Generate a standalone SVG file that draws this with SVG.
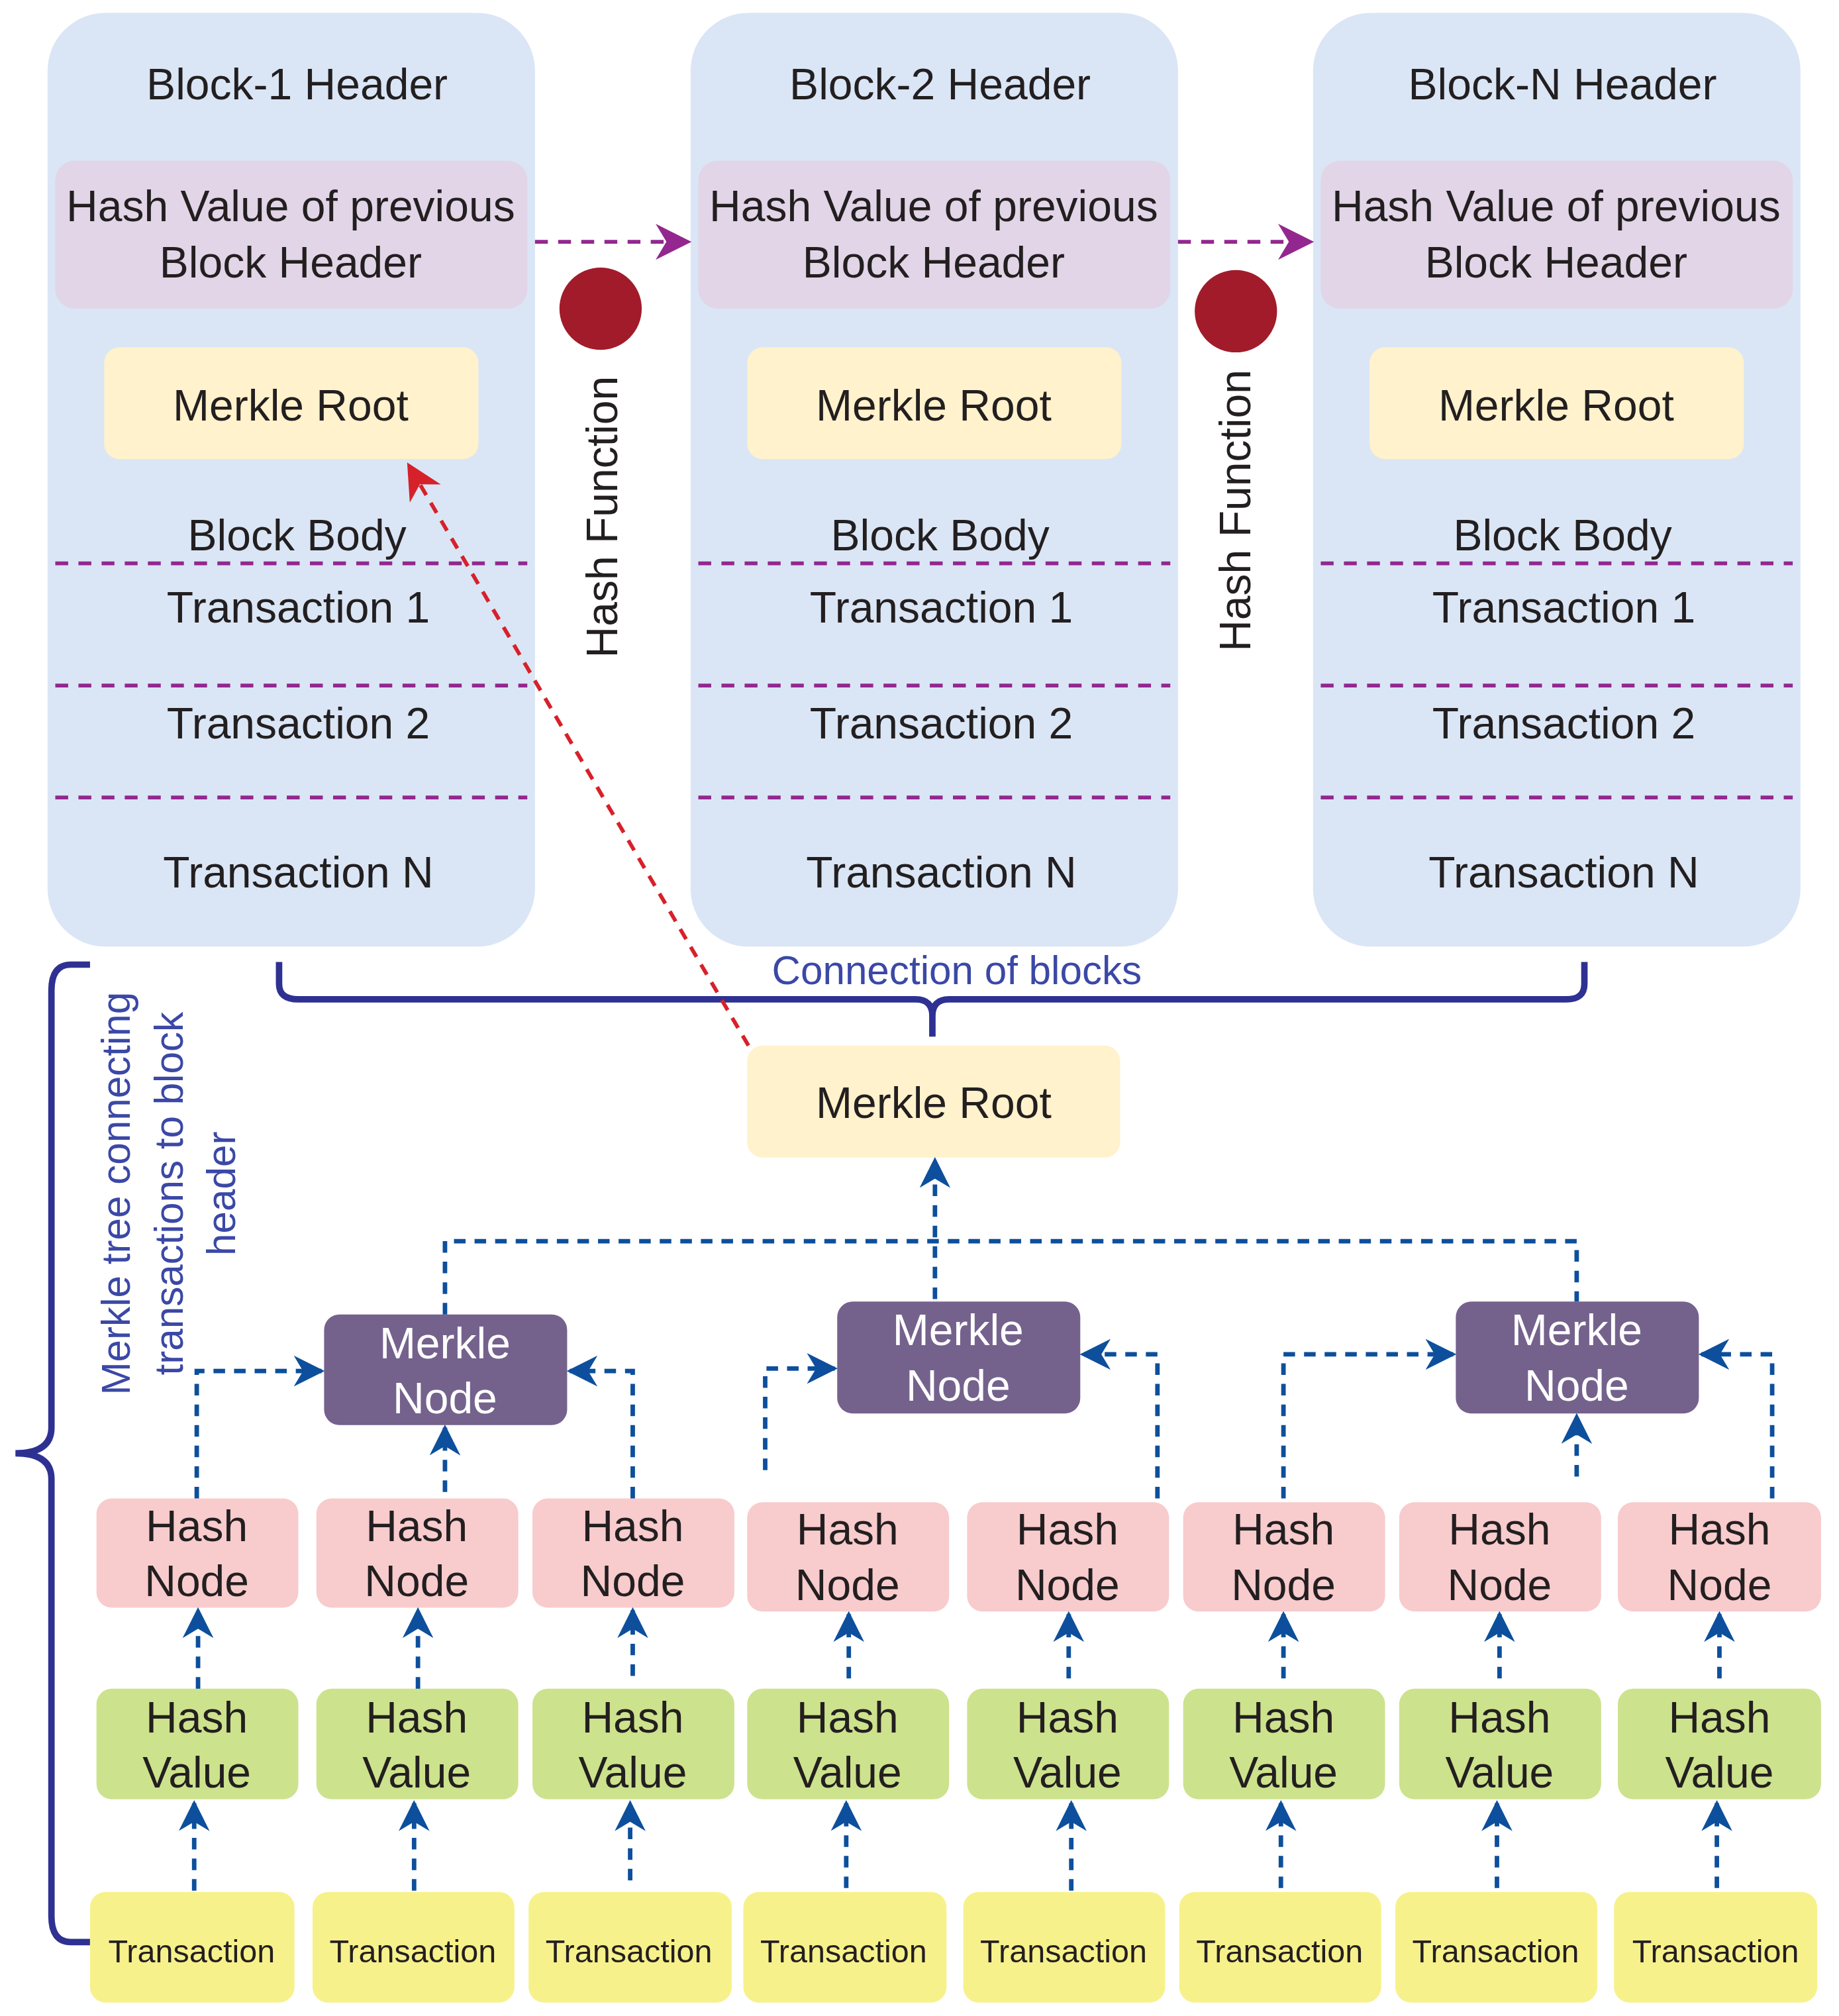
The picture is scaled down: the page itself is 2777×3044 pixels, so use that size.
<svg xmlns="http://www.w3.org/2000/svg" width="2777" height="3044" viewBox="0 0 2777 3044">
<style>
text{font-family:"Liberation Sans",Arial,sans-serif;fill:#231f20;text-anchor:middle}
.blk{fill:#dae6f5}
.hv{fill:#e1d5e7}
.mr{fill:#fff2cc}
.pd{stroke:#93278f;stroke-width:3;stroke-dasharray:10 8;fill:none}
.bd{stroke:#0d4f9c;stroke-width:3.5;stroke-dasharray:9 7;fill:none}
.mn{fill:#74628d}
.hn{fill:#f8cbcd}
.hvl{fill:#cde28c}
.tr{fill:#f7f18b}
.t32{font-size:34px}
.t24{font-size:25px}
text.w{fill:#fff}
text.blue{fill:#3b48a6;font-size:31px}
</style>
<defs>
<marker id="ab" viewBox="0 0 20 20" refX="18" refY="10" markerWidth="24" markerHeight="24" orient="auto" markerUnits="userSpaceOnUse"><path d="M0,0 L20,10 L0,20 L6,10 Z" fill="#0d4f9c"/></marker>
<marker id="ap" viewBox="0 0 20 20" refX="18" refY="10" markerWidth="28" markerHeight="28" orient="auto" markerUnits="userSpaceOnUse"><path d="M0,0 L20,10 L0,20 L6,10 Z" fill="#93278f"/></marker>
<marker id="ar" viewBox="0 0 20 20" refX="18" refY="10" markerWidth="28" markerHeight="28" orient="auto" markerUnits="userSpaceOnUse"><path d="M0,0 L20,10 L0,20 L6,10 Z" fill="#d7212a"/></marker>
</defs>
<g transform="scale(1.942)">
<g id="block1">
<rect class="blk" x="37" y="10" width="379" height="726" rx="45"/>
<text class="t32" x="231" y="77">Block-1 Header</text>
<rect class="hv" x="43" y="125" width="367" height="115" rx="15"/>
<text class="t32" x="226" y="172">Hash Value of previous</text>
<text class="t32" x="226" y="216">Block Header</text>
<rect class="mr" x="81" y="270" width="291" height="87" rx="12"/>
<text class="t32" x="226" y="327">Merkle Root</text>
<text class="t32" x="231" y="428">Block Body</text>
<path class="pd" d="M43,438H410M43,533H410M43,620H410"/>
<text class="t32" x="232" y="484">Transaction 1</text>
<text class="t32" x="232" y="574">Transaction 2</text>
<text class="t32" x="232" y="690">Transaction N</text>
</g>
<g id="block2" transform="translate(500,0)">
<rect class="blk" x="37" y="10" width="379" height="726" rx="45"/>
<text class="t32" x="231" y="77">Block-2 Header</text>
<rect class="hv" x="43" y="125" width="367" height="115" rx="15"/>
<text class="t32" x="226" y="172">Hash Value of previous</text>
<text class="t32" x="226" y="216">Block Header</text>
<rect class="mr" x="81" y="270" width="291" height="87" rx="12"/>
<text class="t32" x="226" y="327">Merkle Root</text>
<text class="t32" x="231" y="428">Block Body</text>
<path class="pd" d="M43,438H410M43,533H410M43,620H410"/>
<text class="t32" x="232" y="484">Transaction 1</text>
<text class="t32" x="232" y="574">Transaction 2</text>
<text class="t32" x="232" y="690">Transaction N</text>
</g>
<g id="blockN" transform="translate(984,0)">
<rect class="blk" x="37" y="10" width="379" height="726" rx="45"/>
<text class="t32" x="231" y="77">Block-N Header</text>
<rect class="hv" x="43" y="125" width="367" height="115" rx="15"/>
<text class="t32" x="226" y="172">Hash Value of previous</text>
<text class="t32" x="226" y="216">Block Header</text>
<rect class="mr" x="81" y="270" width="291" height="87" rx="12"/>
<text class="t32" x="226" y="327">Merkle Root</text>
<text class="t32" x="231" y="428">Block Body</text>
<path class="pd" d="M43,438H410M43,533H410M43,620H410"/>
<text class="t32" x="232" y="484">Transaction 1</text>
<text class="t32" x="232" y="574">Transaction 2</text>
<text class="t32" x="232" y="690">Transaction N</text>
</g>
<g id="hashfn1">
<circle cx="467" cy="240" r="32" fill="#a21b2a"/>
<text class="t32" transform="translate(480,402) rotate(-90)">Hash Function</text>
</g>
<g id="hashfn2">
<circle cx="961" cy="242" r="32" fill="#a21b2a"/>
<text class="t32" transform="translate(972,397) rotate(-90)">Hash Function</text>
</g>
<g id="braces" fill="none" stroke="#2e3192" stroke-width="5">
<path d="M217,748 V765 Q217,777 232,777 H712 Q725,777 725,790 V806 M725,790 Q725,777 738,777 H1218 Q1232,777 1232,765 V748"/>
<path d="M70,1510 H55 Q40,1510 40,1490 V1150 Q40,1130 12,1130 Q40,1130 40,1110 V770 Q40,750 55,750 H70"/>
</g>
<text class="blue" x="744" y="765">Connection of blocks</text>
<g id="merkle-label">
<text class="blue" transform="translate(101,928) rotate(-90)">Merkle tree connecting</text>
<text class="blue" transform="translate(142,928) rotate(-90)">transactions to block</text>
<text class="blue" transform="translate(183,928) rotate(-90)">header</text>
</g>
<g id="merkleroot">
<rect class="mr" x="581" y="813" width="290" height="87" rx="12"/>
<text class="t32" x="726" y="869">Merkle Root</text>
</g>
<g id="merklenodes">
<rect class="mn" x="252" y="1022" width="189" height="86" rx="12"/>
<text class="t32 w" x="346" y="1056">Merkle</text><text class="t32 w" x="346" y="1099">Node</text>
<rect class="mn" x="651" y="1012" width="189" height="87" rx="12"/>
<text class="t32 w" x="745" y="1046">Merkle</text><text class="t32 w" x="745" y="1089">Node</text>
<rect class="mn" x="1132" y="1012" width="189" height="87" rx="12"/>
<text class="t32 w" x="1226" y="1046">Merkle</text><text class="t32 w" x="1226" y="1089">Node</text>
</g>
<g id="hashnodes">
<rect class="hn" x="75" y="1165" width="157" height="85" rx="12"/><text class="t32" x="153" y="1198">Hash</text><text class="t32" x="153" y="1241">Node</text>
<rect class="hn" x="246" y="1165" width="157" height="85" rx="12"/><text class="t32" x="324" y="1198">Hash</text><text class="t32" x="324" y="1241">Node</text>
<rect class="hn" x="414" y="1165" width="157" height="85" rx="12"/><text class="t32" x="492" y="1198">Hash</text><text class="t32" x="492" y="1241">Node</text>
<rect class="hn" x="581" y="1168" width="157" height="85" rx="12"/><text class="t32" x="659" y="1201">Hash</text><text class="t32" x="659" y="1244">Node</text>
<rect class="hn" x="752" y="1168" width="157" height="85" rx="12"/><text class="t32" x="830" y="1201">Hash</text><text class="t32" x="830" y="1244">Node</text>
<rect class="hn" x="920" y="1168" width="157" height="85" rx="12"/><text class="t32" x="998" y="1201">Hash</text><text class="t32" x="998" y="1244">Node</text>
<rect class="hn" x="1088" y="1168" width="157" height="85" rx="12"/><text class="t32" x="1166" y="1201">Hash</text><text class="t32" x="1166" y="1244">Node</text>
<rect class="hn" x="1258" y="1168" width="158" height="85" rx="12"/><text class="t32" x="1337" y="1201">Hash</text><text class="t32" x="1337" y="1244">Node</text>
</g>
<g id="hashvalues">
<rect class="hvl" x="75" y="1313" width="157" height="86" rx="12"/><text class="t32" x="153" y="1347">Hash</text><text class="t32" x="153" y="1390">Value</text>
<rect class="hvl" x="246" y="1313" width="157" height="86" rx="12"/><text class="t32" x="324" y="1347">Hash</text><text class="t32" x="324" y="1390">Value</text>
<rect class="hvl" x="414" y="1313" width="157" height="86" rx="12"/><text class="t32" x="492" y="1347">Hash</text><text class="t32" x="492" y="1390">Value</text>
<rect class="hvl" x="581" y="1313" width="157" height="86" rx="12"/><text class="t32" x="659" y="1347">Hash</text><text class="t32" x="659" y="1390">Value</text>
<rect class="hvl" x="752" y="1313" width="157" height="86" rx="12"/><text class="t32" x="830" y="1347">Hash</text><text class="t32" x="830" y="1390">Value</text>
<rect class="hvl" x="920" y="1313" width="157" height="86" rx="12"/><text class="t32" x="998" y="1347">Hash</text><text class="t32" x="998" y="1390">Value</text>
<rect class="hvl" x="1088" y="1313" width="157" height="86" rx="12"/><text class="t32" x="1166" y="1347">Hash</text><text class="t32" x="1166" y="1390">Value</text>
<rect class="hvl" x="1258" y="1313" width="158" height="86" rx="12"/><text class="t32" x="1337" y="1347">Hash</text><text class="t32" x="1337" y="1390">Value</text>
</g>
<g id="transactions">
<rect class="tr" x="70" y="1471" width="159" height="86" rx="12"/><text class="t24" x="149" y="1526">Transaction</text>
<rect class="tr" x="243" y="1471" width="157" height="86" rx="12"/><text class="t24" x="321" y="1526">Transaction</text>
<rect class="tr" x="411" y="1471" width="158" height="86" rx="12"/><text class="t24" x="489" y="1526">Transaction</text>
<rect class="tr" x="578" y="1471" width="158" height="86" rx="12"/><text class="t24" x="656" y="1526">Transaction</text>
<rect class="tr" x="749" y="1471" width="157" height="86" rx="12"/><text class="t24" x="827" y="1526">Transaction</text>
<rect class="tr" x="917" y="1471" width="157" height="86" rx="12"/><text class="t24" x="995" y="1526">Transaction</text>
<rect class="tr" x="1085" y="1471" width="157" height="86" rx="12"/><text class="t24" x="1163" y="1526">Transaction</text>
<rect class="tr" x="1255" y="1471" width="158" height="86" rx="12"/><text class="t24" x="1334" y="1526">Transaction</text>
</g>
<g id="connectors">
<path class="pd" d="M416,188H535" marker-end="url(#ap)"/>
<path class="pd" d="M916,188H1019" marker-end="url(#ap)"/>
<path d="M582,813L318,362" stroke="#d7212a" stroke-width="3" stroke-dasharray="9 7" fill="none" marker-end="url(#ar)"/>
<g class="bd" marker-end="url(#ab)">
<path d="M151,1470V1402"/><path d="M322,1470V1402"/><path d="M490,1462V1402"/><path d="M658,1468V1402"/><path d="M833,1470V1402"/><path d="M996,1468V1402"/><path d="M1164,1468V1402"/><path d="M1335,1468V1402"/>
<path d="M154,1313V1252"/><path d="M325,1313V1252"/><path d="M492,1303V1252"/><path d="M660,1305V1255"/><path d="M831,1305V1255"/><path d="M998,1305V1255"/><path d="M1166,1305V1255"/><path d="M1337,1305V1255"/>
<path d="M153,1165V1066H250"/><path d="M346,1160V1110"/><path d="M492,1165V1066H443"/>
<path d="M595,1143V1064H649"/><path d="M900,1165V1053H842"/>
<path d="M998,1165V1053H1130"/><path d="M1226,1148V1101"/><path d="M1378,1165V1053H1323"/>
<path d="M727,1010V902"/>
</g>
<path class="bd" d="M346,1022V965H1226V1012"/>
</g>
</g>
</svg>
